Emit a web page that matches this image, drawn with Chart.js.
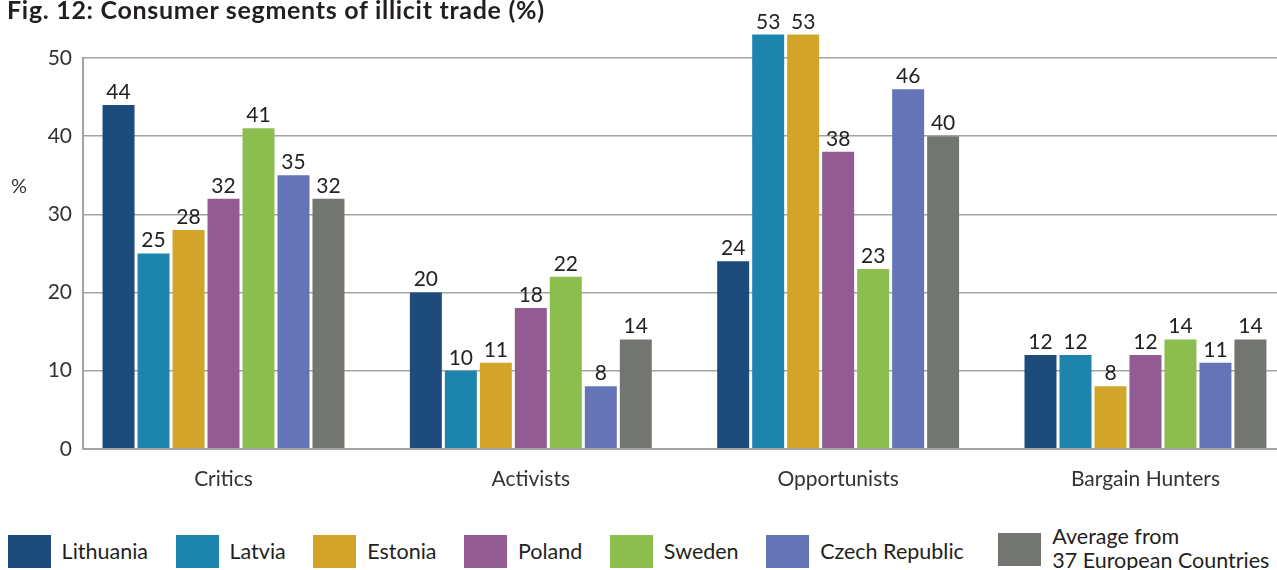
<!DOCTYPE html>
<html><head><meta charset="utf-8">
<script src="https://cdn.jsdelivr.net/npm/chart.js@4"></script>
<style>
html,body{margin:0;padding:0;background:#fff;overflow:hidden;}
#wrap{position:relative;width:1277px;height:570px;overflow:hidden;}
#chartBox{position:absolute;left:0;top:0;width:1277px;height:520px;}
#title{position:absolute;left:7px;top:-6px;font:bold 25px Lato;letter-spacing:0.7px;color:#231f20;white-space:nowrap;}
#pct{position:absolute;left:11px;top:173px;font:20px Lato;color:#333;}
#legend{position:absolute;left:0;top:528px;width:1277px;height:47px;display:flex;justify-content:center;align-items:center;gap:27.5px;font:21.5px Lato;color:#231f20;}
.li{display:flex;align-items:center;white-space:nowrap;}
.sw{width:43px;height:33px;margin-right:11px;flex:none;}
.tx{line-height:33px;}
.li.multi{position:relative;top:-2.5px;margin-left:7px;}
.li.multi .tx{line-height:23.6px;}
</style></head><body>
<div id="wrap">
<div id="chartBox"><canvas id="c" width="1277" height="520"></canvas></div>
<div id="title">Fig. 12: Consumer segments of illicit trade (%)</div>
<div id="pct">%</div>
<div id="legend"></div>
</div>
<script>
const categories = ['Critics', 'Activists', 'Opportunists', 'Bargain Hunters'];
const seriesNames = ['Lithuania', 'Latvia', 'Estonia', 'Poland', 'Sweden', 'Czech Republic', ['Average from', '37 European Countries']];
const lithuania = [44, 20, 24, 12];
const latvia = [25, 10, 53, 12];
const estonia = [28, 11, 53, 8];
const poland = [32, 18, 38, 12];
const sweden = [41, 22, 23, 14];
const czechRepublic = [35, 8, 46, 11];
const europeAverage = [32, 14, 40, 14];
const yTicks = [0, 10, 20, 30, 40, 50];
const seriesColors = ['#1d4b7b', '#1d84ae', '#d2a52a', '#925b92', '#8bbd4f', '#6574b6', '#737670'];

const seriesValues = [lithuania, latvia, estonia, poland, sweden, czechRepublic, europeAverage];
const gridColor = '#a3a3a3';

const valueLabels = {
  id: 'valueLabels',
  afterDatasetsDraw(chart) {
    const ctx = chart.ctx;
    ctx.save();
    ctx.font = '21px Lato';
    ctx.fillStyle = '#222';
    ctx.textAlign = 'center';
    ctx.textBaseline = 'alphabetic';
    chart.data.datasets.forEach((ds, di) => {
      const meta = chart.getDatasetMeta(di);
      meta.data.forEach((bar, i) => {
        ctx.fillText(String(ds.data[i].y), bar.x, bar.y - 6);
      });
    });
    ctx.restore();
  }
};

const htmlLegend = {
  id: 'htmlLegend',
  afterUpdate(chart) {
    const box = document.getElementById('legend');
    box.innerHTML = '';
    const items = chart.options.plugins.legend.labels.generateLabels(chart);
    items.forEach(item => {
      const li = document.createElement('div');
      li.className = 'li' + (Array.isArray(item.text) ? ' multi' : '');
      const sw = document.createElement('span');
      sw.className = 'sw';
      sw.style.background = item.fillStyle;
      const tx = document.createElement('span');
      tx.className = 'tx';
      const lines = Array.isArray(item.text) ? item.text : [item.text];
      lines.forEach((t, k) => {
        if (k) tx.appendChild(document.createElement('br'));
        tx.appendChild(document.createTextNode(t));
      });
      li.appendChild(sw);
      li.appendChild(tx);
      box.appendChild(li);
    });
  }
};

new Chart(document.getElementById('c'), {
  type: 'bar',
  data: {
    datasets: seriesValues.map((vals, k) => ({
      label: seriesNames[k],
      data: vals.map((v, i) => ({ x: i, y: v })),
      backgroundColor: seriesColors[k],
      borderWidth: 0,
      categoryPercentage: 0.797,
      barPercentage: 0.914,
      clip: false
    }))
  },
  options: {
    responsive: false,
    animation: false,
    events: [],
    layout: { padding: { top: 58, left: 0, right: 0, bottom: 10 } },
    plugins: {
      tooltip: { enabled: false },
      title: { display: false },
      legend: { display: false }
    },
    scales: {
      x: {
        type: 'linear',
        offset: false,
        min: -0.4572,
        max: 3.428,
        afterBuildTicks(scale) { scale.ticks = categories.map((c, i) => ({ value: i })); },
        ticks: {
          callback: (v) => categories[v],
          color: '#333',
          font: { family: 'Lato', size: 21 },
          padding: 18,
          maxRotation: 0,
          autoSkip: false
        },
        grid: { display: false, drawTicks: false, offset: false },
        border: { display: true, color: gridColor, width: 2 }
      },
      y: {
        min: 0,
        max: 50,
        afterBuildTicks(scale) { scale.ticks = yTicks.map(v => ({ value: v })); },
        afterFit(scale) { scale.width = 83; },
        ticks: {
          color: '#333',
          font: { family: 'Lato', size: 21 },
          padding: 11
        },
        grid: { color: gridColor, lineWidth: 1.5, drawTicks: false },
        border: { display: true, color: gridColor, width: 2 }
      }
    }
  },
  plugins: [valueLabels, htmlLegend]
});
</script>
</body></html>
